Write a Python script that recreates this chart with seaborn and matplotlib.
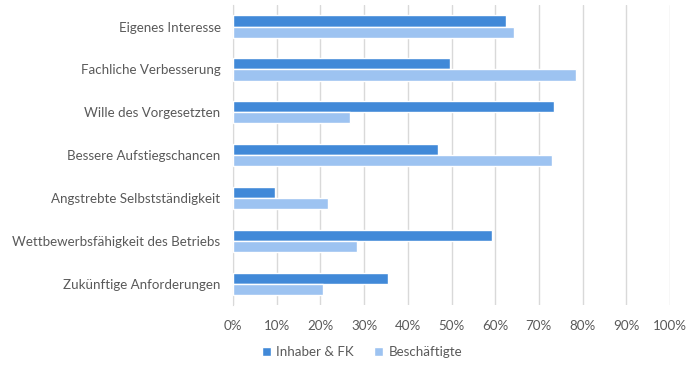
import matplotlib.pyplot as plt
import matplotlib.ticker as mtick
import pandas as pd
import seaborn as sns

categories = ['Eigenes Interesse', 'Fachliche Verbesserung', 'Wille des Vorgesetzten',
              'Bessere Aufstiegschancen', 'Angstrebte Selbstständigkeit',
              'Wettbewerbsfähigkeit des Betriebs', 'Zukünftige Anforderungen']
inhaber = [62.5, 49.7, 73.5, 47.0, 9.5, 59.2, 35.4]
beschaeftigte = [64.4, 78.4, 26.7, 73.0, 21.7, 28.3, 20.5]
series = ['Inhaber & FK', 'Beschäftigte']

df = pd.DataFrame({
    'grund': categories * 2,
    'wert': inhaber + beschaeftigte,
    'gruppe': [series[0]] * len(categories) + [series[1]] * len(categories),
})

sns.set_style('white')
plt.rcParams['font.family'] = ['Lato', 'DejaVu Sans']
grey = '#595959'

fig = plt.figure(figsize=(7, 3.69), dpi=100)
ax = fig.add_axes([0.333, 0.173, 0.624, 0.813])

sns.barplot(data=df, x='wert', y='grund', hue='gruppe', order=categories,
            hue_order=series, palette=['#4189d8', '#9dc3f1'], saturation=1,
            width=0.52, orient='h', ax=ax, zorder=3)

ax.set_xlim(0, 100)
ax.set_xticks(range(0, 101, 10))
ax.xaxis.set_major_formatter(mtick.PercentFormatter(decimals=0))
ax.grid(axis='x', color='#d9d9d9', linewidth=1, zorder=0)
ax.set_xlabel('')
ax.set_ylabel('')
for s in ['top', 'right', 'bottom']:
    ax.spines[s].set_visible(False)
ax.spines['left'].set_color('#d9d9d9')
ax.tick_params(axis='both', length=0, colors=grey, labelsize=9.6)
ax.tick_params(axis='x', pad=11)
ax.tick_params(axis='y', pad=9)

ax.get_legend().remove()
handles, labels = ax.get_legend_handles_labels()
fig.legend(handles, labels, loc='center', bbox_to_anchor=(0.517, 0.045), ncols=2,
           frameon=False, fontsize=9.6, labelcolor=grey, handlelength=0.7,
           handleheight=0.7, handletextpad=0.4, columnspacing=1.5)

fig.savefig('out.png', dpi=100)
